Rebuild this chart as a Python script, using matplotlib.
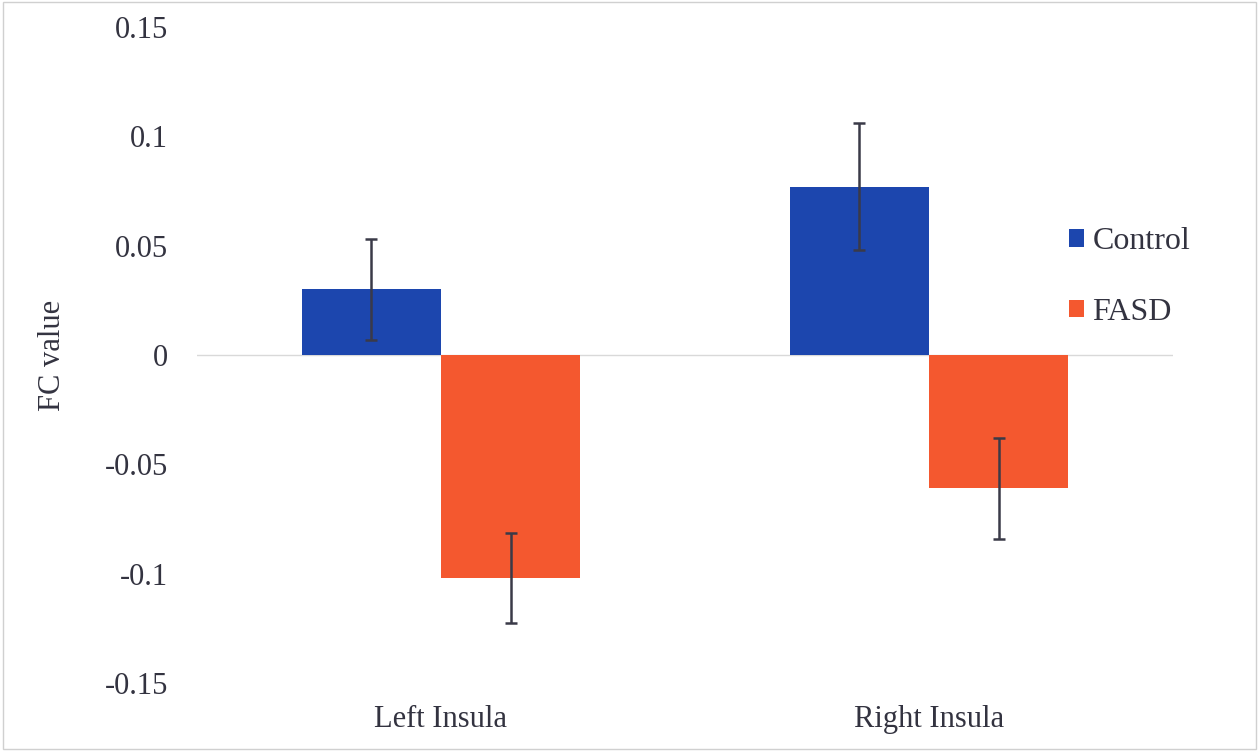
import numpy as np
import matplotlib
matplotlib.use("Agg")
import matplotlib.pyplot as plt

# data
regions = ["Left Insula", "Right Insula"]
control_vals = [0.030, 0.077]
control_err = [0.023, 0.029]
fasd_vals = [-0.102, -0.061]
fasd_err = [0.0205, 0.023]
yticks = [-0.15, -0.1, -0.05, 0, 0.05, 0.1, 0.15]
ytick_labels = ["-0.15", "-0.1", "-0.05", "0", "0.05", "0.1", "0.15"]

plt.rcParams['font.family'] = ['Liberation Serif', 'DejaVu Serif']

fig = plt.figure(figsize=(12.59, 7.51), dpi=100)
ax = fig.add_axes([197 / 1259, 68 / 751, 976 / 1259, 656 / 751])

x = np.arange(len(regions))
w = 0.285
err_style = dict(ecolor='#3a3a48', elinewidth=1.8, capsize=4.5, capthick=1.8)

ax.bar(x - w / 2, control_vals, w, color='#1c46ae', label='Control',
       yerr=control_err, error_kw=err_style, zorder=2)
ax.bar(x + w / 2, fasd_vals, w, color='#f4582f', label='FASD',
       yerr=fasd_err, error_kw=err_style, zorder=2)

ax.axhline(0, color='#d9d9d9', linewidth=1, zorder=1)

ax.set_xlim(-0.5, 1.5)
ax.set_ylim(-0.15, 0.15)
ax.set_yticks(yticks)
ax.set_yticklabels(ytick_labels)
ax.set_xticks(x)
ax.set_xticklabels(regions)
ax.tick_params(axis='both', length=0, labelsize=22, colors='#333340')
ax.tick_params(axis='y', pad=21)
ax.tick_params(axis='x', pad=16)

for s in ax.spines.values():
    s.set_visible(False)

ax.set_ylabel('FC value', fontsize=22, color='#333340', labelpad=27)

leg = fig.legend(loc='center left', bbox_to_anchor=(1069 / 1259, 1 - 277 / 751),
                 frameon=False, fontsize=23, handlelength=0.48, handleheight=0.48,
                 handletextpad=0.25, labelspacing=1.3, borderaxespad=0, borderpad=0)
for t in leg.get_texts():
    t.set_color('#333340')

# thin border around the whole picture
fig.patches.append(plt.Rectangle((0.002, 0.002), 0.996, 0.996, transform=fig.transFigure,
                                 fill=False, edgecolor='#d0d0d0', linewidth=1))

fig.savefig('out.png', dpi=100)
